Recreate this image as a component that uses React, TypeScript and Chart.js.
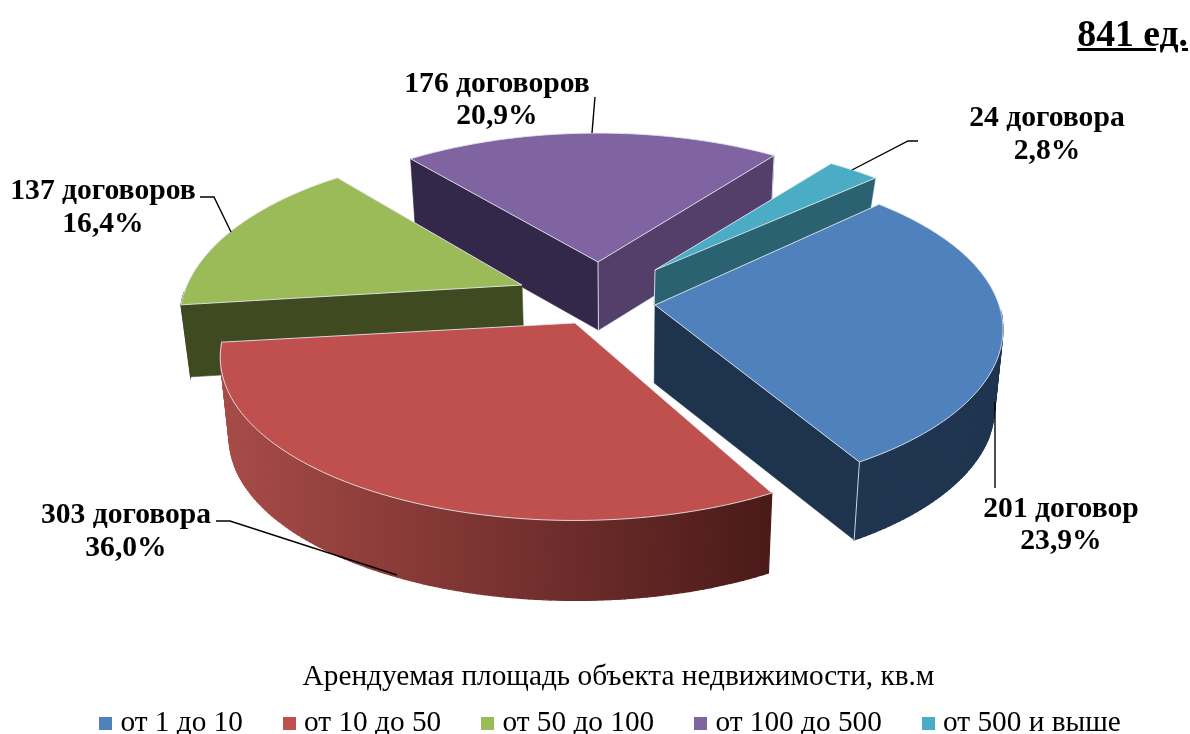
import React, { useEffect, useRef } from "react";
import { Chart, registerables } from "chart.js";

Chart.register(...registerables);

const categories = ["от 1 до 10", "от 10 до 50", "от 50 до 100", "от 100 до 500", "от 500 и выше"];
const contracts = [201, 303, 137, 176, 24];
const countLabels = ["201 договор", "303 договора", "137 договоров", "176 договоров", "24 договора"];
const percentLabels = ["23,9%", "36,0%", "16,4%", "20,9%", "2,8%"];
const colors = ["#4f81bd", "#c0504d", "#9bbb59", "#8064a2", "#4bacc6"];
const legendTitle = "Арендуемая площадь объекта недвижимости, кв.м";
const totalLabel = "841 ед.";

const FONT = '"Liberation Serif", "Times New Roman", serif';
const ROTATION = 47.7;
// Picture angle for a chart angle: the camera widens the front of the pie.
const WARP: [number, number][] = [[47.7, 47.7], [133.7, 151], [263.3, 263], [322.4, 320.5], [407.7, 407.7]];
const PROJ = { f: 340, g: 156, p: 0.21, vx: 620, k: 0.022 };
const RIM = "rgba(225,230,235,0.9)";

type View = {
  ax: number; ay: number; depth: number; fx?: number; g?: number; p?: number; f?: number;
  startDeg?: number; endDeg?: number;
  startWall: string; endWall: string; outer: string | [string, string, number, number];
  edges: ("apex" | "start" | "end")[];
};
const views: View[] = [
  { ax: 655, ay: 305, depth: 78, f: 344, g: 160, p: 0.15, startDeg: 46, endDeg: 148.8, startWall: "#1e344e", endWall: "#1e344e", outer: "#1f3550", edges: ["end"] },
  { ax: 575, ay: 323, depth: 80, fx: 1.02, startDeg: 152.5, startWall: "#4b1b1a", endWall: "#a54a46", outer: ["#a84b47", "#4a1a19", 222, 770], edges: [] },
  { ax: 522, ay: 285, depth: 72, fx: 0.985, g: 162, startWall: "#404a20", endWall: "#404a20", outer: "#404a20", edges: [] },
  { ax: 598, ay: 262, depth: 68, startWall: "#33284a", endWall: "#533f6a", outer: "#533f6a", edges: ["apex", "end"] },
  { ax: 655, ay: 270, depth: 35, startWall: "#2b6271", endWall: "#2b6271", outer: "#2b6271", edges: ["apex"] },
];
const paintOrder = [3, 2, 4, 0, 1];

const callouts: { cx: number; y1: number; y2: number; line: [number, number][] }[] = [
  { cx: 1061, y1: 509.5, y2: 541.5, line: [[995, 402], [995, 488]] },
  { cx: 126, y1: 515.5, y2: 548.5, line: [[216, 521], [230, 521], [397, 575]] },
  { cx: 103, y1: 191.5, y2: 224.5, line: [[200, 197], [214, 197], [231, 232]] },
  { cx: 497, y1: 84.5, y2: 116.5, line: [[592, 133], [595, 97]] },
  { cx: 1047, y1: 118.5, y2: 151.5, line: [[918, 141], [908, 141], [852, 170]] },
];

function warp(deg: number) {
  let d = deg;
  while (d < WARP[0][0] - 0.01) d += 360;
  for (let i = 0; i < WARP.length - 1; i++) {
    const [a0, b0] = WARP[i];
    const [a1, b1] = WARP[i + 1];
    if (d <= a1 + 0.01) return b0 + ((d - a0) * (b1 - b0)) / (a1 - a0);
  }
  return d;
}

function rimPoint(v: View, deg: number): [number, number] {
  const t = (deg * Math.PI) / 180;
  const w = 1 + (v.p ?? PROJ.p) * Math.cos(t);
  return [v.ax + ((v.f ?? PROJ.f) * (v.fx ?? 1) * Math.sin(t)) / w, v.ay - ((v.g ?? PROJ.g) * Math.cos(t)) / w];
}
function lower(v: View, p: [number, number]): [number, number] {
  return [PROJ.vx + (p[0] - PROJ.vx) * (1 - PROJ.k), p[1] + v.depth];
}

const pie3d = {
  id: "pie3d",
  beforeDatasetDraw(chart: any) {
    const ctx: CanvasRenderingContext2D = chart.ctx;
    const arcs = chart.getDatasetMeta(0).data;
    ctx.save();
    for (const i of paintOrder) {
      const arc = arcs[i];
      const v = views[i];
      const s0 = (arc.startAngle * 180) / Math.PI + 90;
      const e0 = (arc.endAngle * 180) / Math.PI + 90;
      const ws = warp(s0);
      const s = v.startDeg ?? ws;
      const e = v.endDeg ?? ws + (warp(s0 + (e0 - s0) * 0.999) - ws) / 0.999;
      const steps = Math.max(6, Math.ceil(Math.abs(e - s)));
      const angles: number[] = [];
      const rim: [number, number][] = [];
      for (let k = 0; k <= steps; k++) {
        const a = s + ((e - s) * k) / steps;
        angles.push(a);
        rim.push(rimPoint(v, a));
      }
      const apex: [number, number] = [v.ax, v.ay];
      const apexLow = lower(v, apex);

      const fillPoly = (pts: [number, number][], fill: any, seam = 0.6) => {
        ctx.beginPath();
        pts.forEach((p, n) => (n ? ctx.lineTo(p[0], p[1]) : ctx.moveTo(p[0], p[1])));
        ctx.closePath();
        ctx.fillStyle = fill;
        ctx.fill();
        ctx.strokeStyle = fill;
        ctx.lineWidth = seam;
        ctx.stroke();
      };
      const sinDeg = (d: number) => Math.sin((d * Math.PI) / 180);
      const cosDeg = (d: number) => Math.cos((d * Math.PI) / 180);

      const first = rim[0];
      const last = rim[rim.length - 1];
      // Only the walls that face the camera are painted.
      if (sinDeg(s) < 0) fillPoly([apex, first, lower(v, first), apexLow], v.startWall);
      if (sinDeg(e) > 0) fillPoly([apex, last, lower(v, last), apexLow], v.endWall);

      let outerFill: any = v.outer;
      if (Array.isArray(v.outer)) {
        const g = ctx.createLinearGradient(v.outer[2], 0, v.outer[3], 0);
        g.addColorStop(0, v.outer[0]);
        g.addColorStop(1, v.outer[1]);
        outerFill = g;
      }
      for (let k = 0; k < steps; k++) {
        if (cosDeg((angles[k] + angles[k + 1]) / 2) > -0.05) continue;
        fillPoly([rim[k], rim[k + 1], lower(v, rim[k + 1]), lower(v, rim[k])], outerFill, 1.2);
      }

      // Vertical seams
      ctx.strokeStyle = RIM;
      ctx.lineWidth = 1;
      for (const edge of v.edges) {
        const p = edge === "apex" ? apex : edge === "start" ? first : last;
        const q = lower(v, p);
        ctx.beginPath();
        ctx.moveTo(p[0], p[1]);
        ctx.lineTo(q[0], q[1]);
        ctx.stroke();
      }

      // Top face
      ctx.beginPath();
      ctx.moveTo(apex[0], apex[1]);
      rim.forEach((p) => ctx.lineTo(p[0], p[1]));
      ctx.closePath();
      ctx.fillStyle = arc.options.backgroundColor;
      ctx.fill();
      ctx.strokeStyle = RIM;
      ctx.lineWidth = 1;
      ctx.stroke();
    }
    ctx.restore();
    return false;
  },
  afterDraw(chart: any) {
    const ctx: CanvasRenderingContext2D = chart.ctx;
    ctx.save();
    ctx.strokeStyle = "#000";
    ctx.lineWidth = 1.4;
    ctx.fillStyle = "#000";
    ctx.textAlign = "center";
    ctx.textBaseline = "middle";
    ctx.font = `bold 29.6px ${FONT}`;
    callouts.forEach((c, i) => {
      ctx.beginPath();
      c.line.forEach((p, n) => (n ? ctx.lineTo(p[0], p[1]) : ctx.moveTo(p[0], p[1])));
      ctx.stroke();
      ctx.fillText(countLabels[i], c.cx, c.y1);
      ctx.fillText(percentLabels[i], c.cx, c.y2);
    });
    ctx.font = `29.3px ${FONT}`;
    ctx.fillText(legendTitle, 618.5, 677);
    ctx.restore();
  },
};

function squareMarker(color: string) {
  const c = document.createElement("canvas");
  c.width = 13;
  c.height = 13;
  const g = c.getContext("2d")!;
  g.fillStyle = color;
  g.fillRect(0, 0, 13, 13);
  return c;
}

export default function App() {
  const ref = useRef<HTMLCanvasElement>(null);
  useEffect(() => {
    const markers = colors.map(squareMarker);
    const chart = new Chart(ref.current!, {
      type: "pie",
      data: {
        labels: categories,
        datasets: [{ data: contracts, backgroundColor: colors, borderWidth: 0 }],
      },
      options: {
        animation: false,
        responsive: false,
        rotation: ROTATION,
        events: [],
        layout: { padding: 0 },
        plugins: {
          tooltip: { enabled: false },
          legend: {
            display: true,
            position: "bottom",
            labels: {
              color: "#000",
              usePointStyle: true,
              pointStyleWidth: 0.5,
              padding: 46,
              font: { family: FONT, size: 29.3 },
              generateLabels: (c: any) =>
                (Chart as any).overrides.pie.plugins.legend.labels
                  .generateLabels(c)
                  .map((item: any, i: number) => ({ ...item, pointStyle: markers[i] })),
            },
          },
        },
      },
      plugins: [pie3d],
    } as any);
    return () => chart.destroy();
  }, []);
  return (
    <div style={{ position: "fixed", left: 0, top: 0, width: 1190, height: 734, background: "#fff", overflow: "hidden" }}>
      <canvas ref={ref} width={1226} height={748} style={{ display: "block" }} />
      <span
        style={{
          position: "absolute",
          right: 2,
          top: 11,
          font: `bold 37.7px ${FONT}`,
          textDecoration: "underline",
          color: "#000",
        }}
      >
        {totalLabel}
      </span>
    </div>
  );
}
